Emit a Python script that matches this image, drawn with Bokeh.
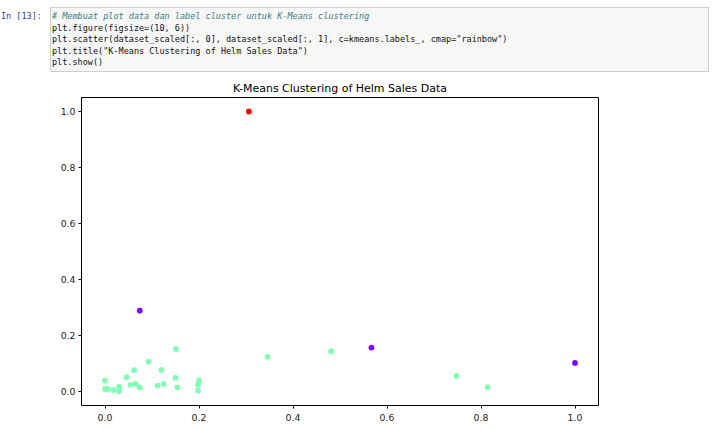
from bokeh.plotting import figure
from bokeh.models import Div, FixedTicker, LinearColorMapper, ColumnDataSource
from bokeh.layouts import column
from bokeh.embed import file_html
from bokeh.resources import INLINE

# Scaled dataset (feature 0, feature 1) and K-Means labels
x_vals = [0.000, 0.000, 0.006, 0.018, 0.030, 0.030, 0.046, 0.054, 0.062, 0.065,
          0.074, 0.093, 0.112, 0.120, 0.125, 0.151, 0.150, 0.154, 0.200, 0.198,
          0.198, 0.346, 0.481, 0.748, 0.814, 0.074, 0.567, 1.000, 0.306]
y_vals = [0.039, 0.009, 0.009, 0.005, 0.016, 0.001, 0.051, 0.024, 0.076, 0.027,
          0.015, 0.107, 0.021, 0.077, 0.027, 0.152, 0.049, 0.015, 0.040, 0.025,
          0.004, 0.124, 0.144, 0.056, 0.016, 0.289, 0.157, 0.102, 1.000]
labels = [1, 1, 1, 1, 1, 1, 1, 1, 1, 1,
          1, 1, 1, 1, 1, 1, 1, 1, 1, 1,
          1, 1, 1, 1, 1, 0, 0, 0, 2]
rainbow_palette = ["#8000ff", "#80ffb4", "#ff0000"]
tick_values = [0.0, 0.2, 0.4, 0.6, 0.8, 1.0]
title_text = "K-Means Clustering of Helm Sales Data"

code_lines = [
    "# Membuat plot data dan label cluster untuk K-Means clustering",
    "plt.figure(figsize=(10, 6))",
    'plt.scatter(dataset_scaled[:, 0], dataset_scaled[:, 1], c=kmeans.labels_, cmap="rainbow")',
    'plt.title("K-Means Clustering of Helm Sales Data")',
    "plt.show()",
]
prompt_text = "In [13]:"

mono = ("font-family:'DejaVu Sans Mono',monospace;font-size:8.5px;"
        "line-height:11.5px;white-space:pre;")
parts = [
    '<div style="position:relative;width:699px;height:67px;">',
    f'<div style="position:absolute;left:-4px;top:6px;{mono}color:#303f9f;">{prompt_text}</div>',
    '<div style="position:absolute;left:45px;top:2px;width:659px;height:65px;'
    'background:#f7f7f7;border:1px solid #cfcfcf;"></div>',
]
for i, line in enumerate(code_lines):
    style = "color:#408080;font-style:italic;" if line.startswith("#") else "color:#111;"
    parts.append(f'<div style="position:absolute;left:47px;top:{6 + i * 11.5}px;{mono}{style}">{line}</div>')
parts.append("</div>")
code_html = "".join(parts)

div = Div(text=code_html, width=699, height=67, styles={"overflow": "visible"})

source = ColumnDataSource(dict(x=x_vals, y=y_vals, label=labels))
mapper = LinearColorMapper(palette=rainbow_palette, low=0, high=2)

p = figure(frame_width=517, frame_height=308, output_backend="svg", toolbar_location=None,
           x_range=(-0.05, 1.05), y_range=(-0.05, 1.05), title=title_text,
           min_border_left=81, min_border_right=10, min_border_top=0, min_border_bottom=16)
p.scatter("x", "y", source=source, size=5.8,
          fill_color={"field": "label", "transform": mapper},
          line_color={"field": "label", "transform": mapper}, line_width=0)

p.title.align = "center"
p.title.text_font = "DejaVu Sans"
p.title.text_font_size = "11px"
p.title.text_font_style = "normal"
p.title.text_color = "#000000"
p.title.standoff = 5

p.xgrid.visible = False
p.ygrid.visible = False
p.outline_line_color = "#000000"
p.outline_line_width = 1
p.background_fill_color = "white"
p.border_fill_color = "white"

for ax in (p.xaxis[0], p.yaxis[0]):
    ax.ticker = FixedTicker(ticks=tick_values)
    ax.minor_tick_line_color = None
    ax.major_tick_in = 0
    ax.major_tick_out = 3
    ax.major_tick_line_color = "#000000"
    ax.axis_line_color = "#000000"
    ax.major_label_text_font = "DejaVu Sans"
    ax.major_label_text_font_size = "9.3px"
    ax.major_label_text_color = "#222222"
    ax.major_label_standoff = 3
    ax.major_label_overrides = {v: f"{v:.1f}" for v in tick_values}
p.xaxis[0].major_label_standoff = 5

layout = column(div, p, spacing=0)
open("out.html", "w").write(file_html(layout, INLINE))
